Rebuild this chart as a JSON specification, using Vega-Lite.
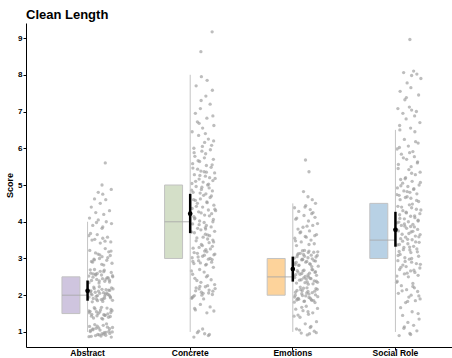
{
"$schema": "https://vega.github.io/schema/vega-lite/v6.json",
"width": 426, "height": 324,
"autosize": {"type": "none"},
"padding": {"left": 26, "top": 23, "right": 0, "bottom": 11},
"background": "white",
"title": {"text": "Clean Length", "anchor": "start", "frame": "group", "font": "Liberation Sans", "fontSize": 13, "fontWeight": "bold", "color": "#000", "baseline": "alphabetic", "offset": 5, "dy": 14},
"datasets": {
"sum": [
{"cat": "Abstract", "min": 1, "q1": 1.5, "med": 2, "q3": 2.5, "max": 4, "mean": 2.12, "lo": 1.85, "hi": 2.4},
{"cat": "Concrete", "min": 1, "q1": 3, "med": 4, "q3": 5, "max": 8, "mean": 4.22, "lo": 3.69, "hi": 4.76},
{"cat": "Emotions", "min": 1, "q1": 2, "med": 2.5, "q3": 3, "max": 4.5, "mean": 2.71, "lo": 2.37, "hi": 3.05},
{"cat": "Social Role", "min": 1, "q1": 3, "med": 3.5, "q3": 4.5, "max": 6.5, "mean": 3.78, "lo": 3.32, "hi": 4.27}
],
"pts": [
{"cat":"Abstract","score":0.88,"jit":0.12},{"cat":"Abstract","score":0.95,"jit":0.55},{"cat":"Abstract","score":1.02,"jit":0.83},{"cat":"Abstract","score":1.10,"jit":0.31},{"cat":"Abstract","score":0.91,"jit":0.70},{"cat":"Abstract","score":1.15,"jit":0.05},{"cat":"Abstract","score":1.05,"jit":0.47},{"cat":"Abstract","score":0.86,"jit":0.92},{"cat":"Abstract","score":1.20,"jit":0.26},{"cat":"Abstract","score":0.98,"jit":0.64},
{"cat":"Abstract","score":1.08,"jit":0.18},{"cat":"Abstract","score":0.93,"jit":0.38},{"cat":"Abstract","score":1.13,"jit":0.77},{"cat":"Abstract","score":1.00,"jit":0.96},{"cat":"Abstract","score":0.89,"jit":0.51},{"cat":"Abstract","score":1.18,"jit":0.60},{"cat":"Abstract","score":1.04,"jit":0.09},{"cat":"Abstract","score":0.96,"jit":0.86},{"cat":"Abstract","score":1.11,"jit":0.42},{"cat":"Abstract","score":1.22,"jit":0.73},
{"cat":"Abstract","score":1.38,"jit":0.21},{"cat":"Abstract","score":1.45,"jit":0.67},{"cat":"Abstract","score":1.52,"jit":0.04},{"cat":"Abstract","score":1.60,"jit":0.49},{"cat":"Abstract","score":1.42,"jit":0.88},{"cat":"Abstract","score":1.55,"jit":0.33},{"cat":"Abstract","score":1.65,"jit":0.75},{"cat":"Abstract","score":1.35,"jit":0.58},{"cat":"Abstract","score":1.48,"jit":0.14},{"cat":"Abstract","score":1.58,"jit":0.95},
{"cat":"Abstract","score":1.50,"jit":0.40},{"cat":"Abstract","score":1.63,"jit":0.27},{"cat":"Abstract","score":1.40,"jit":0.81},{"cat":"Abstract","score":1.47,"jit":0.62},{"cat":"Abstract","score":1.56,"jit":0.07},{"cat":"Abstract","score":1.67,"jit":0.53},{"cat":"Abstract","score":1.44,"jit":0.35},{"cat":"Abstract","score":1.53,"jit":0.90},
{"cat":"Abstract","score":1.82,"jit":0.16},{"cat":"Abstract","score":1.90,"jit":0.59},{"cat":"Abstract","score":2.00,"jit":0.84},{"cat":"Abstract","score":2.08,"jit":0.28},{"cat":"Abstract","score":2.15,"jit":0.71},{"cat":"Abstract","score":1.95,"jit":0.03},{"cat":"Abstract","score":2.05,"jit":0.46},{"cat":"Abstract","score":2.20,"jit":0.93},{"cat":"Abstract","score":1.85,"jit":0.37},{"cat":"Abstract","score":1.98,"jit":0.66},
{"cat":"Abstract","score":2.12,"jit":0.11},{"cat":"Abstract","score":2.02,"jit":0.79},{"cat":"Abstract","score":1.88,"jit":0.52},{"cat":"Abstract","score":2.18,"jit":0.24},{"cat":"Abstract","score":1.93,"jit":0.89},{"cat":"Abstract","score":2.07,"jit":0.61},{"cat":"Abstract","score":2.23,"jit":0.44},{"cat":"Abstract","score":1.86,"jit":0.97},{"cat":"Abstract","score":2.10,"jit":0.08},{"cat":"Abstract","score":1.97,"jit":0.32},
{"cat":"Abstract","score":2.03,"jit":0.69},{"cat":"Abstract","score":2.16,"jit":0.55},{"cat":"Abstract","score":1.91,"jit":0.20},{"cat":"Abstract","score":2.13,"jit":0.86},
{"cat":"Abstract","score":2.33,"jit":0.43},{"cat":"Abstract","score":2.40,"jit":0.13},{"cat":"Abstract","score":2.48,"jit":0.76},{"cat":"Abstract","score":2.55,"jit":0.30},{"cat":"Abstract","score":2.62,"jit":0.92},{"cat":"Abstract","score":2.45,"jit":0.57},{"cat":"Abstract","score":2.52,"jit":0.02},{"cat":"Abstract","score":2.68,"jit":0.64},{"cat":"Abstract","score":2.36,"jit":0.85},{"cat":"Abstract","score":2.58,"jit":0.19},
{"cat":"Abstract","score":2.43,"jit":0.34},{"cat":"Abstract","score":2.65,"jit":0.48},{"cat":"Abstract","score":2.50,"jit":0.98},{"cat":"Abstract","score":2.38,"jit":0.66},{"cat":"Abstract","score":2.60,"jit":0.10},{"cat":"Abstract","score":2.47,"jit":0.80},{"cat":"Abstract","score":2.55,"jit":0.53},{"cat":"Abstract","score":2.70,"jit":0.25},
{"cat":"Abstract","score":2.82,"jit":0.62},{"cat":"Abstract","score":2.90,"jit":0.17},{"cat":"Abstract","score":3.00,"jit":0.45},{"cat":"Abstract","score":3.08,"jit":0.88},{"cat":"Abstract","score":3.15,"jit":0.29},{"cat":"Abstract","score":2.95,"jit":0.74},{"cat":"Abstract","score":3.22,"jit":0.06},{"cat":"Abstract","score":3.05,"jit":0.55},{"cat":"Abstract","score":2.87,"jit":0.95},{"cat":"Abstract","score":3.12,"jit":0.39},
{"cat":"Abstract","score":3.27,"jit":0.68},{"cat":"Abstract","score":2.98,"jit":0.23},{"cat":"Abstract","score":3.18,"jit":0.82},
{"cat":"Abstract","score":3.42,"jit":0.48},{"cat":"Abstract","score":3.50,"jit":0.15},{"cat":"Abstract","score":3.58,"jit":0.77},{"cat":"Abstract","score":3.65,"jit":0.36},{"cat":"Abstract","score":3.45,"jit":0.90},{"cat":"Abstract","score":3.55,"jit":0.58},{"cat":"Abstract","score":3.68,"jit":0.09},{"cat":"Abstract","score":3.52,"jit":0.26},
{"cat":"Abstract","score":3.82,"jit":0.55},{"cat":"Abstract","score":3.90,"jit":0.18},{"cat":"Abstract","score":4.00,"jit":0.72},{"cat":"Abstract","score":4.05,"jit":0.40},{"cat":"Abstract","score":3.95,"jit":0.93},{"cat":"Abstract","score":4.10,"jit":0.05},
{"cat":"Abstract","score":4.20,"jit":0.62},{"cat":"Abstract","score":4.25,"jit":0.30},{"cat":"Abstract","score":4.30,"jit":0.85},{"cat":"Abstract","score":4.40,"jit":0.12},{"cat":"Abstract","score":4.50,"jit":0.48},{"cat":"Abstract","score":4.60,"jit":0.70},{"cat":"Abstract","score":4.62,"jit":0.25},{"cat":"Abstract","score":4.75,"jit":0.58},{"cat":"Abstract","score":4.80,"jit":0.40},{"cat":"Abstract","score":4.88,"jit":0.92},
{"cat":"Abstract","score":5.00,"jit":0.55},{"cat":"Abstract","score":5.60,"jit":0.68},
{"cat":"Abstract","score":0.87,"jit":0.03},{"cat":"Abstract","score":0.92,"jit":0.44},{"cat":"Abstract","score":0.99,"jit":0.71},{"cat":"Abstract","score":1.06,"jit":0.19},{"cat":"Abstract","score":1.12,"jit":0.97},{"cat":"Abstract","score":1.16,"jit":0.36},{"cat":"Abstract","score":0.94,"jit":0.62},{"cat":"Abstract","score":1.01,"jit":0.08},{"cat":"Abstract","score":1.09,"jit":0.85},{"cat":"Abstract","score":0.90,"jit":0.29},
{"cat":"Abstract","score":1.37,"jit":0.54},{"cat":"Abstract","score":1.43,"jit":0.13},{"cat":"Abstract","score":1.49,"jit":0.78},{"cat":"Abstract","score":1.54,"jit":0.46},{"cat":"Abstract","score":1.61,"jit":0.91},{"cat":"Abstract","score":1.66,"jit":0.24},{"cat":"Abstract","score":1.46,"jit":0.67},{"cat":"Abstract","score":1.57,"jit":0.02},
{"cat":"Abstract","score":1.83,"jit":0.58},{"cat":"Abstract","score":1.89,"jit":0.33},{"cat":"Abstract","score":1.96,"jit":0.88},{"cat":"Abstract","score":2.01,"jit":0.15},{"cat":"Abstract","score":2.06,"jit":0.74},{"cat":"Abstract","score":2.11,"jit":0.41},{"cat":"Abstract","score":2.17,"jit":0.99},{"cat":"Abstract","score":2.22,"jit":0.22},{"cat":"Abstract","score":1.92,"jit":0.65},{"cat":"Abstract","score":2.04,"jit":0.11},
{"cat":"Abstract","score":2.14,"jit":0.82},{"cat":"Abstract","score":1.99,"jit":0.37},
{"cat":"Abstract","score":2.34,"jit":0.03},{"cat":"Abstract","score":2.39,"jit":0.44},{"cat":"Abstract","score":2.44,"jit":0.71},{"cat":"Abstract","score":2.49,"jit":0.19},{"cat":"Abstract","score":2.53,"jit":0.97},{"cat":"Abstract","score":2.59,"jit":0.36},{"cat":"Abstract","score":2.64,"jit":0.62},{"cat":"Abstract","score":2.69,"jit":0.08},{"cat":"Abstract","score":2.41,"jit":0.85},{"cat":"Abstract","score":2.57,"jit":0.29},
{"cat":"Abstract","score":2.84,"jit":0.54},{"cat":"Abstract","score":2.92,"jit":0.13},{"cat":"Abstract","score":3.02,"jit":0.78},{"cat":"Abstract","score":3.10,"jit":0.46},{"cat":"Abstract","score":3.20,"jit":0.91},{"cat":"Abstract","score":2.96,"jit":0.24},
{"cat":"Abstract","score":3.47,"jit":0.67},{"cat":"Abstract","score":3.62,"jit":0.02},{"cat":"Abstract","score":3.86,"jit":0.58},{"cat":"Abstract","score":3.98,"jit":0.33},

{"cat":"Concrete","score":0.86,"jit":0.12},{"cat":"Concrete","score":0.95,"jit":0.55},{"cat":"Concrete","score":1.02,"jit":0.31},{"cat":"Concrete","score":0.90,"jit":0.70},{"cat":"Concrete","score":1.08,"jit":0.47},{"cat":"Concrete","score":0.98,"jit":0.26},
{"cat":"Concrete","score":1.52,"jit":0.64},{"cat":"Concrete","score":1.60,"jit":0.18},{"cat":"Concrete","score":1.68,"jit":0.77},{"cat":"Concrete","score":1.75,"jit":0.38},{"cat":"Concrete","score":1.57,"jit":0.92},
{"cat":"Concrete","score":1.90,"jit":0.51},{"cat":"Concrete","score":1.96,"jit":0.09},{"cat":"Concrete","score":2.02,"jit":0.86},{"cat":"Concrete","score":2.08,"jit":0.42},{"cat":"Concrete","score":2.14,"jit":0.73},{"cat":"Concrete","score":2.20,"jit":0.21},{"cat":"Concrete","score":2.26,"jit":0.67},{"cat":"Concrete","score":1.93,"jit":0.04},{"cat":"Concrete","score":2.05,"jit":0.49},{"cat":"Concrete","score":2.11,"jit":0.88},
{"cat":"Concrete","score":2.17,"jit":0.33},{"cat":"Concrete","score":2.23,"jit":0.58},{"cat":"Concrete","score":1.99,"jit":0.14},{"cat":"Concrete","score":2.29,"jit":0.95},
{"cat":"Concrete","score":2.35,"jit":0.40},{"cat":"Concrete","score":2.42,"jit":0.81},{"cat":"Concrete","score":2.50,"jit":0.62},{"cat":"Concrete","score":2.57,"jit":0.07},{"cat":"Concrete","score":2.63,"jit":0.53},{"cat":"Concrete","score":2.70,"jit":0.35},{"cat":"Concrete","score":2.76,"jit":0.90},{"cat":"Concrete","score":2.46,"jit":0.16},
{"cat":"Concrete","score":2.82,"jit":0.59},{"cat":"Concrete","score":2.86,"jit":0.12},{"cat":"Concrete","score":2.90,"jit":0.83},{"cat":"Concrete","score":2.94,"jit":0.31},{"cat":"Concrete","score":2.98,"jit":0.70},{"cat":"Concrete","score":3.02,"jit":0.05},{"cat":"Concrete","score":3.06,"jit":0.47},{"cat":"Concrete","score":3.10,"jit":0.92},{"cat":"Concrete","score":3.14,"jit":0.26},{"cat":"Concrete","score":3.18,"jit":0.64},
{"cat":"Concrete","score":2.88,"jit":0.38},{"cat":"Concrete","score":3.00,"jit":0.77},{"cat":"Concrete","score":3.12,"jit":0.96},{"cat":"Concrete","score":3.20,"jit":0.55},
{"cat":"Concrete","score":3.24,"jit":0.60},{"cat":"Concrete","score":3.28,"jit":0.09},{"cat":"Concrete","score":3.33,"jit":0.86},{"cat":"Concrete","score":3.38,"jit":0.42},{"cat":"Concrete","score":3.43,"jit":0.73},{"cat":"Concrete","score":3.48,"jit":0.21},{"cat":"Concrete","score":3.53,"jit":0.67},{"cat":"Concrete","score":3.58,"jit":0.49},{"cat":"Concrete","score":3.30,"jit":0.33},{"cat":"Concrete","score":3.50,"jit":0.88},
{"cat":"Concrete","score":3.62,"jit":0.75},{"cat":"Concrete","score":3.66,"jit":0.58},{"cat":"Concrete","score":3.70,"jit":0.14},{"cat":"Concrete","score":3.74,"jit":0.95},{"cat":"Concrete","score":3.78,"jit":0.40},{"cat":"Concrete","score":3.82,"jit":0.27},{"cat":"Concrete","score":3.86,"jit":0.81},{"cat":"Concrete","score":3.90,"jit":0.62},{"cat":"Concrete","score":3.94,"jit":0.07},{"cat":"Concrete","score":3.98,"jit":0.53},
{"cat":"Concrete","score":4.02,"jit":0.35},{"cat":"Concrete","score":4.06,"jit":0.90},{"cat":"Concrete","score":4.10,"jit":0.16},{"cat":"Concrete","score":3.80,"jit":0.59},
{"cat":"Concrete","score":4.14,"jit":0.12},{"cat":"Concrete","score":4.18,"jit":0.55},{"cat":"Concrete","score":4.22,"jit":0.83},{"cat":"Concrete","score":4.27,"jit":0.31},{"cat":"Concrete","score":4.32,"jit":0.70},{"cat":"Concrete","score":4.36,"jit":0.05},{"cat":"Concrete","score":4.40,"jit":0.47},{"cat":"Concrete","score":4.45,"jit":0.92},{"cat":"Concrete","score":4.50,"jit":0.26},{"cat":"Concrete","score":4.54,"jit":0.64},
{"cat":"Concrete","score":4.58,"jit":0.18},{"cat":"Concrete","score":4.62,"jit":0.38},{"cat":"Concrete","score":4.66,"jit":0.77},{"cat":"Concrete","score":4.34,"jit":0.96},
{"cat":"Concrete","score":4.72,"jit":0.51},{"cat":"Concrete","score":4.76,"jit":0.60},{"cat":"Concrete","score":4.80,"jit":0.09},{"cat":"Concrete","score":4.84,"jit":0.86},{"cat":"Concrete","score":4.88,"jit":0.42},{"cat":"Concrete","score":4.92,"jit":0.73},{"cat":"Concrete","score":4.96,"jit":0.21},{"cat":"Concrete","score":5.00,"jit":0.67},{"cat":"Concrete","score":5.04,"jit":0.04},{"cat":"Concrete","score":5.08,"jit":0.49},
{"cat":"Concrete","score":5.12,"jit":0.88},{"cat":"Concrete","score":5.16,"jit":0.33},{"cat":"Concrete","score":5.20,"jit":0.75},
{"cat":"Concrete","score":5.24,"jit":0.58},{"cat":"Concrete","score":5.28,"jit":0.14},{"cat":"Concrete","score":5.33,"jit":0.95},{"cat":"Concrete","score":5.38,"jit":0.40},{"cat":"Concrete","score":5.43,"jit":0.27},{"cat":"Concrete","score":5.48,"jit":0.81},{"cat":"Concrete","score":5.53,"jit":0.62},{"cat":"Concrete","score":5.58,"jit":0.07},{"cat":"Concrete","score":5.36,"jit":0.53},
{"cat":"Concrete","score":5.64,"jit":0.35},{"cat":"Concrete","score":5.70,"jit":0.90},{"cat":"Concrete","score":5.78,"jit":0.16},{"cat":"Concrete","score":5.85,"jit":0.59},{"cat":"Concrete","score":5.92,"jit":0.44},{"cat":"Concrete","score":6.00,"jit":0.12},{"cat":"Concrete","score":6.08,"jit":0.83},{"cat":"Concrete","score":6.16,"jit":0.55},{"cat":"Concrete","score":6.25,"jit":0.70},
{"cat":"Concrete","score":6.35,"jit":0.31},{"cat":"Concrete","score":6.45,"jit":0.05},{"cat":"Concrete","score":6.55,"jit":0.47},{"cat":"Concrete","score":6.62,"jit":0.92},{"cat":"Concrete","score":6.72,"jit":0.26},{"cat":"Concrete","score":6.82,"jit":0.64},{"cat":"Concrete","score":6.95,"jit":0.18},
{"cat":"Concrete","score":7.08,"jit":0.38},{"cat":"Concrete","score":7.20,"jit":0.77},{"cat":"Concrete","score":7.42,"jit":0.60},{"cat":"Concrete","score":7.58,"jit":0.86},{"cat":"Concrete","score":7.70,"jit":0.21},{"cat":"Concrete","score":7.95,"jit":0.42},
{"cat":"Concrete","score":8.63,"jit":0.40},{"cat":"Concrete","score":9.17,"jit":0.85},
{"cat":"Concrete","score":1.92,"jit":0.03},{"cat":"Concrete","score":2.00,"jit":0.44},{"cat":"Concrete","score":2.06,"jit":0.71},{"cat":"Concrete","score":2.12,"jit":0.19},{"cat":"Concrete","score":2.18,"jit":0.97},{"cat":"Concrete","score":2.24,"jit":0.36},
{"cat":"Concrete","score":2.84,"jit":0.62},{"cat":"Concrete","score":2.92,"jit":0.08},{"cat":"Concrete","score":2.97,"jit":0.85},{"cat":"Concrete","score":3.04,"jit":0.29},{"cat":"Concrete","score":3.09,"jit":0.54},{"cat":"Concrete","score":3.16,"jit":0.13},
{"cat":"Concrete","score":3.26,"jit":0.78},{"cat":"Concrete","score":3.35,"jit":0.46},{"cat":"Concrete","score":3.45,"jit":0.91},{"cat":"Concrete","score":3.56,"jit":0.24},{"cat":"Concrete","score":3.64,"jit":0.67},{"cat":"Concrete","score":3.72,"jit":0.02},{"cat":"Concrete","score":3.84,"jit":0.58},{"cat":"Concrete","score":3.92,"jit":0.33},{"cat":"Concrete","score":4.00,"jit":0.88},{"cat":"Concrete","score":4.08,"jit":0.15},
{"cat":"Concrete","score":4.16,"jit":0.74},{"cat":"Concrete","score":4.24,"jit":0.41},{"cat":"Concrete","score":4.30,"jit":0.99},{"cat":"Concrete","score":4.42,"jit":0.22},{"cat":"Concrete","score":4.52,"jit":0.65},{"cat":"Concrete","score":4.60,"jit":0.11},{"cat":"Concrete","score":4.70,"jit":0.82},{"cat":"Concrete","score":4.78,"jit":0.37},{"cat":"Concrete","score":4.86,"jit":0.03},{"cat":"Concrete","score":4.94,"jit":0.44},
{"cat":"Concrete","score":5.02,"jit":0.71},{"cat":"Concrete","score":5.10,"jit":0.19},{"cat":"Concrete","score":5.18,"jit":0.97},
{"cat":"Concrete","score":5.26,"jit":0.36},{"cat":"Concrete","score":5.35,"jit":0.62},{"cat":"Concrete","score":5.46,"jit":0.08},{"cat":"Concrete","score":5.55,"jit":0.85},{"cat":"Concrete","score":5.66,"jit":0.29},{"cat":"Concrete","score":5.74,"jit":0.54},{"cat":"Concrete","score":5.88,"jit":0.13},{"cat":"Concrete","score":5.96,"jit":0.78},{"cat":"Concrete","score":6.05,"jit":0.46},{"cat":"Concrete","score":6.20,"jit":0.91},
{"cat":"Concrete","score":2.40,"jit":0.24},{"cat":"Concrete","score":2.53,"jit":0.67},{"cat":"Concrete","score":2.66,"jit":0.02},{"cat":"Concrete","score":6.40,"jit":0.58},{"cat":"Concrete","score":6.68,"jit":0.33},{"cat":"Concrete","score":6.88,"jit":0.88},{"cat":"Concrete","score":1.64,"jit":0.15},{"cat":"Concrete","score":0.93,"jit":0.74},{"cat":"Concrete","score":7.30,"jit":0.41},{"cat":"Concrete","score":7.85,"jit":0.65},

{"cat":"Emotions","score":0.92,"jit":0.55},{"cat":"Emotions","score":0.97,"jit":0.31},{"cat":"Emotions","score":1.02,"jit":0.83},{"cat":"Emotions","score":1.08,"jit":0.12},{"cat":"Emotions","score":1.15,"jit":0.70},{"cat":"Emotions","score":1.22,"jit":0.47},{"cat":"Emotions","score":1.28,"jit":0.92},{"cat":"Emotions","score":0.95,"jit":0.64},
{"cat":"Emotions","score":1.40,"jit":0.26},{"cat":"Emotions","score":1.46,"jit":0.18},{"cat":"Emotions","score":1.52,"jit":0.77},{"cat":"Emotions","score":1.58,"jit":0.38},{"cat":"Emotions","score":1.64,"jit":0.96},{"cat":"Emotions","score":1.70,"jit":0.51},{"cat":"Emotions","score":1.48,"jit":0.60},{"cat":"Emotions","score":1.62,"jit":0.09},
{"cat":"Emotions","score":1.80,"jit":0.86},{"cat":"Emotions","score":1.83,"jit":0.42},{"cat":"Emotions","score":1.86,"jit":0.73},{"cat":"Emotions","score":1.89,"jit":0.21},{"cat":"Emotions","score":1.92,"jit":0.67},{"cat":"Emotions","score":1.95,"jit":0.04},{"cat":"Emotions","score":1.98,"jit":0.49},{"cat":"Emotions","score":2.01,"jit":0.88},{"cat":"Emotions","score":2.04,"jit":0.33},{"cat":"Emotions","score":2.07,"jit":0.75},
{"cat":"Emotions","score":2.10,"jit":0.58},{"cat":"Emotions","score":2.13,"jit":0.14},{"cat":"Emotions","score":2.16,"jit":0.95},{"cat":"Emotions","score":2.19,"jit":0.40},{"cat":"Emotions","score":2.22,"jit":0.27},{"cat":"Emotions","score":1.85,"jit":0.81},{"cat":"Emotions","score":1.94,"jit":0.62},{"cat":"Emotions","score":2.00,"jit":0.07},{"cat":"Emotions","score":2.06,"jit":0.53},{"cat":"Emotions","score":2.12,"jit":0.35},
{"cat":"Emotions","score":2.18,"jit":0.90},{"cat":"Emotions","score":1.90,"jit":0.16},
{"cat":"Emotions","score":2.30,"jit":0.59},{"cat":"Emotions","score":2.33,"jit":0.12},{"cat":"Emotions","score":2.36,"jit":0.55},{"cat":"Emotions","score":2.39,"jit":0.83},{"cat":"Emotions","score":2.42,"jit":0.31},{"cat":"Emotions","score":2.45,"jit":0.70},{"cat":"Emotions","score":2.48,"jit":0.05},{"cat":"Emotions","score":2.51,"jit":0.47},{"cat":"Emotions","score":2.54,"jit":0.92},{"cat":"Emotions","score":2.57,"jit":0.26},
{"cat":"Emotions","score":2.60,"jit":0.64},{"cat":"Emotions","score":2.63,"jit":0.18},{"cat":"Emotions","score":2.66,"jit":0.38},{"cat":"Emotions","score":2.69,"jit":0.77},{"cat":"Emotions","score":2.35,"jit":0.96},{"cat":"Emotions","score":2.44,"jit":0.51},{"cat":"Emotions","score":2.50,"jit":0.60},{"cat":"Emotions","score":2.56,"jit":0.09},{"cat":"Emotions","score":2.62,"jit":0.86},{"cat":"Emotions","score":2.68,"jit":0.42},
{"cat":"Emotions","score":2.78,"jit":0.73},{"cat":"Emotions","score":2.81,"jit":0.21},{"cat":"Emotions","score":2.84,"jit":0.67},{"cat":"Emotions","score":2.87,"jit":0.04},{"cat":"Emotions","score":2.90,"jit":0.49},{"cat":"Emotions","score":2.93,"jit":0.88},{"cat":"Emotions","score":2.96,"jit":0.33},{"cat":"Emotions","score":2.99,"jit":0.75},{"cat":"Emotions","score":3.02,"jit":0.58},{"cat":"Emotions","score":3.05,"jit":0.14},
{"cat":"Emotions","score":3.08,"jit":0.95},{"cat":"Emotions","score":3.11,"jit":0.40},{"cat":"Emotions","score":3.14,"jit":0.27},{"cat":"Emotions","score":3.17,"jit":0.81},{"cat":"Emotions","score":3.20,"jit":0.62},{"cat":"Emotions","score":2.83,"jit":0.07},{"cat":"Emotions","score":2.92,"jit":0.53},{"cat":"Emotions","score":2.98,"jit":0.35},{"cat":"Emotions","score":3.04,"jit":0.90},{"cat":"Emotions","score":3.10,"jit":0.16},
{"cat":"Emotions","score":3.16,"jit":0.59},{"cat":"Emotions","score":3.22,"jit":0.44},
{"cat":"Emotions","score":3.35,"jit":0.12},{"cat":"Emotions","score":3.40,"jit":0.83},{"cat":"Emotions","score":3.45,"jit":0.31},{"cat":"Emotions","score":3.50,"jit":0.70},{"cat":"Emotions","score":3.55,"jit":0.05},{"cat":"Emotions","score":3.60,"jit":0.47},{"cat":"Emotions","score":3.65,"jit":0.92},{"cat":"Emotions","score":3.70,"jit":0.26},{"cat":"Emotions","score":3.75,"jit":0.64},{"cat":"Emotions","score":3.80,"jit":0.18},
{"cat":"Emotions","score":3.85,"jit":0.38},{"cat":"Emotions","score":3.90,"jit":0.77},{"cat":"Emotions","score":3.95,"jit":0.96},{"cat":"Emotions","score":3.58,"jit":0.51},
{"cat":"Emotions","score":4.02,"jit":0.60},{"cat":"Emotions","score":4.07,"jit":0.09},{"cat":"Emotions","score":4.12,"jit":0.86},{"cat":"Emotions","score":4.17,"jit":0.42},{"cat":"Emotions","score":4.22,"jit":0.73},{"cat":"Emotions","score":4.28,"jit":0.21},{"cat":"Emotions","score":4.33,"jit":0.67},{"cat":"Emotions","score":4.38,"jit":0.04},{"cat":"Emotions","score":4.44,"jit":0.49},{"cat":"Emotions","score":4.50,"jit":0.88},
{"cat":"Emotions","score":4.60,"jit":0.75},{"cat":"Emotions","score":4.68,"jit":0.58},{"cat":"Emotions","score":4.82,"jit":0.40},{"cat":"Emotions","score":5.36,"jit":0.62},{"cat":"Emotions","score":5.68,"jit":0.48},
{"cat":"Emotions","score":1.81,"jit":0.03},{"cat":"Emotions","score":1.84,"jit":0.44},{"cat":"Emotions","score":1.88,"jit":0.71},{"cat":"Emotions","score":1.91,"jit":0.19},{"cat":"Emotions","score":1.96,"jit":0.97},{"cat":"Emotions","score":1.99,"jit":0.36},{"cat":"Emotions","score":2.03,"jit":0.62},{"cat":"Emotions","score":2.08,"jit":0.08},{"cat":"Emotions","score":2.11,"jit":0.85},{"cat":"Emotions","score":2.15,"jit":0.29},
{"cat":"Emotions","score":2.20,"jit":0.54},{"cat":"Emotions","score":1.87,"jit":0.13},
{"cat":"Emotions","score":2.31,"jit":0.78},{"cat":"Emotions","score":2.34,"jit":0.46},{"cat":"Emotions","score":2.38,"jit":0.91},{"cat":"Emotions","score":2.41,"jit":0.24},{"cat":"Emotions","score":2.46,"jit":0.67},{"cat":"Emotions","score":2.52,"jit":0.02},{"cat":"Emotions","score":2.55,"jit":0.58},{"cat":"Emotions","score":2.59,"jit":0.33},{"cat":"Emotions","score":2.64,"jit":0.88},{"cat":"Emotions","score":2.67,"jit":0.15},
{"cat":"Emotions","score":2.70,"jit":0.74},{"cat":"Emotions","score":2.47,"jit":0.41},
{"cat":"Emotions","score":2.79,"jit":0.99},{"cat":"Emotions","score":2.82,"jit":0.22},{"cat":"Emotions","score":2.86,"jit":0.65},{"cat":"Emotions","score":2.89,"jit":0.11},{"cat":"Emotions","score":2.94,"jit":0.82},{"cat":"Emotions","score":2.97,"jit":0.37},{"cat":"Emotions","score":3.01,"jit":0.03},{"cat":"Emotions","score":3.06,"jit":0.44},{"cat":"Emotions","score":3.09,"jit":0.71},{"cat":"Emotions","score":3.13,"jit":0.19},
{"cat":"Emotions","score":3.18,"jit":0.97},{"cat":"Emotions","score":3.21,"jit":0.36},
{"cat":"Emotions","score":3.38,"jit":0.62},{"cat":"Emotions","score":3.48,"jit":0.08},{"cat":"Emotions","score":3.62,"jit":0.85},{"cat":"Emotions","score":3.72,"jit":0.29},{"cat":"Emotions","score":3.88,"jit":0.54},{"cat":"Emotions","score":4.10,"jit":0.13},{"cat":"Emotions","score":4.25,"jit":0.78},{"cat":"Emotions","score":4.40,"jit":0.46},
{"cat":"Emotions","score":0.98,"jit":0.91},{"cat":"Emotions","score":1.05,"jit":0.24},{"cat":"Emotions","score":1.12,"jit":0.67},{"cat":"Emotions","score":1.43,"jit":0.02},{"cat":"Emotions","score":1.55,"jit":0.58},{"cat":"Emotions","score":1.67,"jit":0.33},

{"cat":"Social Role","score":0.90,"jit":0.12},{"cat":"Social Role","score":0.96,"jit":0.55},{"cat":"Social Role","score":1.03,"jit":0.83},{"cat":"Social Role","score":1.10,"jit":0.31},{"cat":"Social Role","score":1.18,"jit":0.70},{"cat":"Social Role","score":1.26,"jit":0.47},
{"cat":"Social Role","score":1.35,"jit":0.92},{"cat":"Social Role","score":1.45,"jit":0.26},{"cat":"Social Role","score":1.55,"jit":0.64},{"cat":"Social Role","score":1.66,"jit":0.18},
{"cat":"Social Role","score":1.80,"jit":0.38},{"cat":"Social Role","score":1.85,"jit":0.77},{"cat":"Social Role","score":1.90,"jit":0.96},{"cat":"Social Role","score":1.95,"jit":0.51},{"cat":"Social Role","score":2.00,"jit":0.60},{"cat":"Social Role","score":2.05,"jit":0.09},{"cat":"Social Role","score":2.10,"jit":0.86},{"cat":"Social Role","score":2.15,"jit":0.42},{"cat":"Social Role","score":2.20,"jit":0.73},{"cat":"Social Role","score":2.26,"jit":0.21},
{"cat":"Social Role","score":2.32,"jit":0.67},{"cat":"Social Role","score":2.38,"jit":0.04},
{"cat":"Social Role","score":2.50,"jit":0.49},{"cat":"Social Role","score":2.54,"jit":0.88},{"cat":"Social Role","score":2.58,"jit":0.33},{"cat":"Social Role","score":2.62,"jit":0.75},{"cat":"Social Role","score":2.66,"jit":0.58},{"cat":"Social Role","score":2.70,"jit":0.14},{"cat":"Social Role","score":2.74,"jit":0.95},{"cat":"Social Role","score":2.78,"jit":0.40},{"cat":"Social Role","score":2.82,"jit":0.27},{"cat":"Social Role","score":2.86,"jit":0.81},
{"cat":"Social Role","score":2.90,"jit":0.62},{"cat":"Social Role","score":2.94,"jit":0.07},{"cat":"Social Role","score":2.98,"jit":0.53},{"cat":"Social Role","score":3.02,"jit":0.35},{"cat":"Social Role","score":3.06,"jit":0.90},{"cat":"Social Role","score":3.11,"jit":0.16},
{"cat":"Social Role","score":3.16,"jit":0.59},{"cat":"Social Role","score":3.19,"jit":0.12},{"cat":"Social Role","score":3.23,"jit":0.55},{"cat":"Social Role","score":3.26,"jit":0.83},{"cat":"Social Role","score":3.30,"jit":0.31},{"cat":"Social Role","score":3.33,"jit":0.70},{"cat":"Social Role","score":3.37,"jit":0.05},{"cat":"Social Role","score":3.40,"jit":0.47},{"cat":"Social Role","score":3.44,"jit":0.92},{"cat":"Social Role","score":3.47,"jit":0.26},
{"cat":"Social Role","score":3.51,"jit":0.64},{"cat":"Social Role","score":3.54,"jit":0.18},{"cat":"Social Role","score":3.58,"jit":0.38},{"cat":"Social Role","score":3.61,"jit":0.77},{"cat":"Social Role","score":3.65,"jit":0.96},{"cat":"Social Role","score":3.68,"jit":0.51},
{"cat":"Social Role","score":3.72,"jit":0.60},{"cat":"Social Role","score":3.75,"jit":0.09},{"cat":"Social Role","score":3.79,"jit":0.86},{"cat":"Social Role","score":3.82,"jit":0.42},{"cat":"Social Role","score":3.86,"jit":0.73},{"cat":"Social Role","score":3.90,"jit":0.21},{"cat":"Social Role","score":3.93,"jit":0.67},{"cat":"Social Role","score":3.97,"jit":0.04},{"cat":"Social Role","score":4.00,"jit":0.49},{"cat":"Social Role","score":4.04,"jit":0.88},
{"cat":"Social Role","score":4.08,"jit":0.33},{"cat":"Social Role","score":4.11,"jit":0.75},{"cat":"Social Role","score":4.15,"jit":0.58},{"cat":"Social Role","score":4.19,"jit":0.14},{"cat":"Social Role","score":4.22,"jit":0.95},{"cat":"Social Role","score":4.26,"jit":0.40},{"cat":"Social Role","score":4.30,"jit":0.27},{"cat":"Social Role","score":4.34,"jit":0.81},{"cat":"Social Role","score":4.38,"jit":0.62},{"cat":"Social Role","score":4.42,"jit":0.07},
{"cat":"Social Role","score":4.46,"jit":0.53},{"cat":"Social Role","score":3.88,"jit":0.35},
{"cat":"Social Role","score":4.55,"jit":0.90},{"cat":"Social Role","score":4.60,"jit":0.16},{"cat":"Social Role","score":4.64,"jit":0.59},{"cat":"Social Role","score":4.68,"jit":0.44},{"cat":"Social Role","score":4.72,"jit":0.12},{"cat":"Social Role","score":4.76,"jit":0.83},{"cat":"Social Role","score":4.80,"jit":0.55},{"cat":"Social Role","score":4.84,"jit":0.31},{"cat":"Social Role","score":4.88,"jit":0.70},{"cat":"Social Role","score":4.92,"jit":0.05},
{"cat":"Social Role","score":4.96,"jit":0.47},{"cat":"Social Role","score":5.00,"jit":0.92},{"cat":"Social Role","score":5.05,"jit":0.26},{"cat":"Social Role","score":5.10,"jit":0.64},{"cat":"Social Role","score":5.15,"jit":0.18},{"cat":"Social Role","score":5.20,"jit":0.38},
{"cat":"Social Role","score":5.28,"jit":0.77},{"cat":"Social Role","score":5.35,"jit":0.96},{"cat":"Social Role","score":5.42,"jit":0.51},{"cat":"Social Role","score":5.50,"jit":0.60},{"cat":"Social Role","score":5.56,"jit":0.09},{"cat":"Social Role","score":5.63,"jit":0.86},{"cat":"Social Role","score":5.70,"jit":0.42},{"cat":"Social Role","score":5.77,"jit":0.73},{"cat":"Social Role","score":5.84,"jit":0.21},{"cat":"Social Role","score":5.91,"jit":0.67},
{"cat":"Social Role","score":5.98,"jit":0.04},{"cat":"Social Role","score":6.06,"jit":0.49},{"cat":"Social Role","score":6.14,"jit":0.88},{"cat":"Social Role","score":6.24,"jit":0.33},
{"cat":"Social Role","score":6.45,"jit":0.75},{"cat":"Social Role","score":6.55,"jit":0.58},{"cat":"Social Role","score":6.62,"jit":0.14},{"cat":"Social Role","score":6.70,"jit":0.95},{"cat":"Social Role","score":6.80,"jit":0.40},
{"cat":"Social Role","score":6.95,"jit":0.27},{"cat":"Social Role","score":7.00,"jit":0.81},{"cat":"Social Role","score":7.04,"jit":0.62},{"cat":"Social Role","score":7.08,"jit":0.07},{"cat":"Social Role","score":7.12,"jit":0.53},
{"cat":"Social Role","score":7.32,"jit":0.35},{"cat":"Social Role","score":7.45,"jit":0.90},{"cat":"Social Role","score":7.55,"jit":0.16},{"cat":"Social Role","score":7.65,"jit":0.59},{"cat":"Social Role","score":7.78,"jit":0.44},
{"cat":"Social Role","score":7.98,"jit":0.62},{"cat":"Social Role","score":8.02,"jit":0.83},{"cat":"Social Role","score":8.06,"jit":0.30},{"cat":"Social Role","score":8.10,"jit":0.70},{"cat":"Social Role","score":8.96,"jit":0.55},
{"cat":"Social Role","score":2.52,"jit":0.03},{"cat":"Social Role","score":2.60,"jit":0.44},{"cat":"Social Role","score":2.68,"jit":0.71},{"cat":"Social Role","score":2.76,"jit":0.19},{"cat":"Social Role","score":2.84,"jit":0.97},{"cat":"Social Role","score":2.92,"jit":0.36},{"cat":"Social Role","score":3.00,"jit":0.62},{"cat":"Social Role","score":3.08,"jit":0.08},
{"cat":"Social Role","score":3.18,"jit":0.85},{"cat":"Social Role","score":3.24,"jit":0.29},{"cat":"Social Role","score":3.31,"jit":0.54},{"cat":"Social Role","score":3.38,"jit":0.13},{"cat":"Social Role","score":3.45,"jit":0.78},{"cat":"Social Role","score":3.52,"jit":0.46},{"cat":"Social Role","score":3.59,"jit":0.91},{"cat":"Social Role","score":3.66,"jit":0.24},
{"cat":"Social Role","score":3.74,"jit":0.67},{"cat":"Social Role","score":3.80,"jit":0.02},{"cat":"Social Role","score":3.87,"jit":0.58},{"cat":"Social Role","score":3.94,"jit":0.33},{"cat":"Social Role","score":4.02,"jit":0.88},{"cat":"Social Role","score":4.09,"jit":0.15},{"cat":"Social Role","score":4.16,"jit":0.74},{"cat":"Social Role","score":4.24,"jit":0.41},{"cat":"Social Role","score":4.32,"jit":0.99},{"cat":"Social Role","score":4.40,"jit":0.22},
{"cat":"Social Role","score":4.48,"jit":0.65},{"cat":"Social Role","score":3.99,"jit":0.11},
{"cat":"Social Role","score":4.58,"jit":0.82},{"cat":"Social Role","score":4.66,"jit":0.37},{"cat":"Social Role","score":4.74,"jit":0.03},{"cat":"Social Role","score":4.82,"jit":0.44},{"cat":"Social Role","score":4.90,"jit":0.71},{"cat":"Social Role","score":4.98,"jit":0.19},{"cat":"Social Role","score":5.07,"jit":0.97},{"cat":"Social Role","score":5.17,"jit":0.36},
{"cat":"Social Role","score":5.32,"jit":0.62},{"cat":"Social Role","score":5.45,"jit":0.08},{"cat":"Social Role","score":5.60,"jit":0.85},{"cat":"Social Role","score":5.74,"jit":0.29},{"cat":"Social Role","score":5.88,"jit":0.54},{"cat":"Social Role","score":6.02,"jit":0.13},{"cat":"Social Role","score":6.18,"jit":0.78},
{"cat":"Social Role","score":1.83,"jit":0.46},{"cat":"Social Role","score":1.98,"jit":0.91},{"cat":"Social Role","score":2.12,"jit":0.24},{"cat":"Social Role","score":2.24,"jit":0.67},{"cat":"Social Role","score":2.35,"jit":0.02},
{"cat":"Social Role","score":0.93,"jit":0.58},{"cat":"Social Role","score":1.14,"jit":0.33},{"cat":"Social Role","score":1.50,"jit":0.88},
{"cat":"Social Role","score":6.50,"jit":0.15},{"cat":"Social Role","score":6.88,"jit":0.74},{"cat":"Social Role","score":7.38,"jit":0.41},{"cat":"Social Role","score":7.90,"jit":0.99}
]
},
"encoding": {
"x": {"field": "cat", "type": "nominal", "sort": ["Abstract", "Concrete", "Emotions", "Social Role"],
  "scale": {"range": [0, 431], "paddingInner": 0, "paddingOuter": 0.1},
  "axis": {"title": null, "labelAngle": 0, "labelFontSize": 8.5, "labelPadding": -2, "tickSize": 3}}
},
"layer": [
{"data": {"name": "pts"},
 "mark": {"type": "circle", "size": 11, "color": "#9a9a9a", "opacity": 0.65},
 "encoding": {
  "x": {"field": "cat", "type": "nominal", "bandPosition": 0},
  "xOffset": {"field": "jit", "type": "quantitative", "scale": {"domain": [0, 1], "range": [52, 77]}},
  "y": {"field": "score", "type": "quantitative", "scale": {"domain": [0.59, 9.41], "nice": false, "zero": false},
    "axis": {"title": "Score", "values": [1, 2, 3, 4, 5, 6, 7, 8, 9], "labelFontSize": 8, "labelPadding": 1, "tickSize": 3, "titleFontSize": 9, "titlePadding": 3}}
 }},
{"data": {"name": "sum"},
 "mark": {"type": "rule", "color": "#c4c4c4", "strokeWidth": 1},
 "encoding": {"y": {"field": "min", "type": "quantitative"}, "y2": {"field": "max"}}},
{"data": {"name": "sum"},
 "mark": {"type": "bar", "width": {"band": 0.25}, "xOffset": -12.8, "stroke": "#c2c2c2", "strokeWidth": 1},
 "encoding": {"y": {"field": "q1", "type": "quantitative"}, "y2": {"field": "q3"},
  "color": {"field": "cat", "type": "nominal", "legend": null,
    "scale": {"domain": ["Abstract", "Concrete", "Emotions", "Social Role"], "range": ["#cfc5df", "#d4dfc8", "#fdd39b", "#b8d1e5"]}}}},
{"data": {"name": "sum"},
 "mark": {"type": "tick", "size": 25.6, "thickness": 1.2, "xOffset": -12.8, "color": "#a8a8a8"},
 "encoding": {"y": {"field": "med", "type": "quantitative"}}},
{"data": {"name": "sum"},
 "mark": {"type": "rule", "color": "#000", "strokeWidth": 2.5},
 "encoding": {"y": {"field": "lo", "type": "quantitative"}, "y2": {"field": "hi"}}},
{"data": {"name": "sum"},
 "mark": {"type": "circle", "size": 22, "color": "#000", "opacity": 1},
 "encoding": {"y": {"field": "mean", "type": "quantitative"}}}
],
"config": {
 "view": {"stroke": null},
 "axis": {"grid": false, "domainColor": "#000", "tickColor": "#000", "labelColor": "#000", "titleColor": "#000",
   "labelFont": "Liberation Sans", "titleFont": "Liberation Sans", "labelFontWeight": "bold", "titleFontWeight": "bold"}
}
}
